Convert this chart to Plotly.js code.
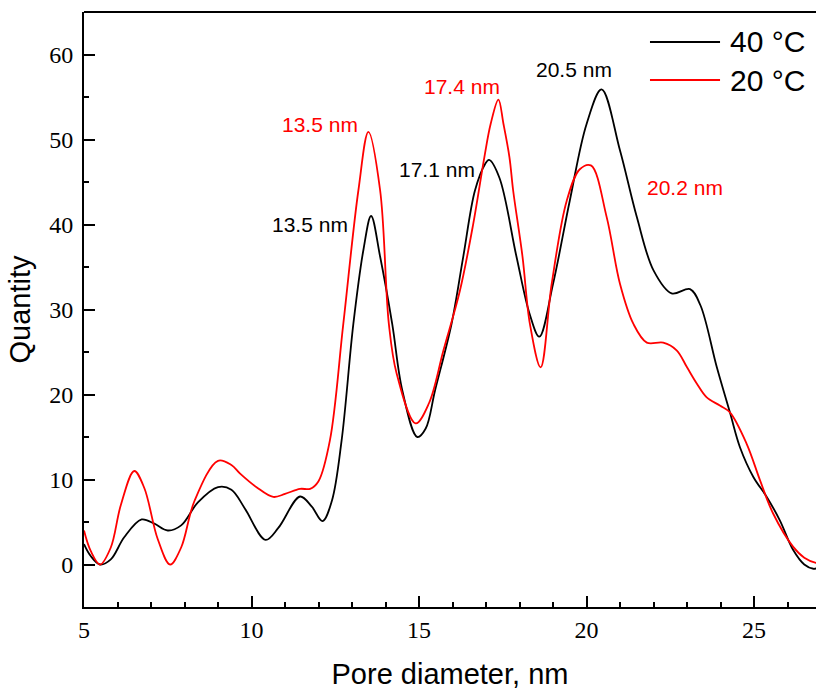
<!DOCTYPE html>
<html>
<head>
<meta charset="utf-8">
<script src="https://cdn.plot.ly/plotly-3.0.1.min.js"></script>
<style>html,body{margin:0;padding:0;background:#fff;}#chart{width:816px;height:690px;}</style>
</head>
<body>
<div id="chart"></div>
<script>
// 40 °C series
const x40 = [5.0,5.2,5.48,5.8,6.2,6.72,7.1,7.5,7.9,8.4,9.0,9.4,9.8,10.42,10.8,11.45,11.8,12.12,12.4,12.69,13.04,13.34,13.57,13.84,14.2,14.5,14.95,15.2,15.48,15.97,16.32,16.67,16.97,17.09,17.4,17.91,18.3,18.59,19.0,19.5,20.0,20.45,21.0,21.5,22.0,22.54,23.09,23.4,23.89,24.28,24.58,24.98,25.38,25.77,26.17,26.5,26.77,26.9];
const y40 = [2.4,1.0,0.0,0.6,3.2,5.3,4.8,4.0,4.6,7.3,9.1,8.8,6.6,2.9,4.3,8.0,6.8,5.1,7.5,14.6,28.3,37.0,41.0,36.2,28.3,20.5,15.0,16.0,20.5,28.3,36.2,44.0,47.1,47.6,45.5,36.2,29.5,26.8,33.0,42.8,51.8,55.9,48.7,40.9,34.6,31.9,32.4,30.5,23.2,17.9,13.8,10.3,7.95,5.2,1.7,0.0,-0.5,-0.4];
// 20 °C series
const x20 = [5.0,5.2,5.48,5.8,6.1,6.5,6.8,7.2,7.57,7.9,8.3,9.0,9.4,9.66,10.15,10.65,11.0,11.45,11.75,12.0,12.34,12.74,13.19,13.49,13.84,14.1,14.33,14.9,15.3,15.73,16.22,16.62,16.95,17.14,17.37,17.52,17.7,17.81,18.09,18.31,18.63,18.96,19.41,19.8,20.13,20.6,21.0,21.4,21.8,22.29,22.69,23.0,23.29,23.58,23.98,24.28,24.78,25.18,25.57,26.17,26.5,26.85,26.9];
const y20 = [4.0,1.6,0.0,2.0,7.0,11.0,9.0,3.0,0.0,2.0,7.5,12.2,11.7,10.7,9.1,7.95,8.3,8.9,8.9,9.8,14.6,28.3,44.0,50.9,44.0,28.3,22.5,16.6,19.0,25.2,32.2,40.1,47.9,51.85,54.7,51.85,47.9,44.0,36.2,28.3,23.2,33.0,42.8,46.5,46.95,40.9,33.0,28.3,26.1,26.1,25.2,23.2,21.3,19.7,18.7,17.9,14.2,9.9,6.0,2.07,0.8,0.2,0.2];

const seriesNames = ['40 °C','20 °C'];
const seriesColors = ['#000000','#ff0000'];

// peak labels
const peakText = ['13.5 nm','13.5 nm','17.1 nm','17.4 nm','20.5 nm','20.2 nm'];
const peakX = [12.04,11.75,15.55,16.27,19.63,22.94];
const peakY = [51.8,40.0,46.5,56.2,58.2,44.3];
const peakColor = ['#ff0000','#000000','#000000','#ff0000','#000000','#ff0000'];

const xTickVals = [5,10,15,20,25];
const yTickVals = [0,10,20,30,40,50,60];

const serif = '"Times New Roman", "Liberation Serif", serif';
const sans = 'Arial, "Liberation Sans", sans-serif';

const traces = [
  {x:x40, y:y40, name:seriesNames[0], type:'scatter', mode:'lines', line:{color:seriesColors[0], width:1.8, shape:'spline', smoothing:1}, showlegend:false},
  {x:x20, y:y20, name:seriesNames[1], type:'scatter', mode:'lines', line:{color:seriesColors[1], width:1.8, shape:'spline', smoothing:1}, showlegend:false}
];

const ann = peakText.map((t,i)=>({x:peakX[i], y:peakY[i], xref:'x', yref:'y', text:t, showarrow:false, xanchor:'center', yanchor:'middle', font:{family:sans, size:21, color:peakColor[i]}}));

// manual legend
const legY = [0.9496, 0.8857];
const shapes = [
  {type:'line', xref:'paper', yref:'paper', x0:0, x1:1, y0:1, y1:1, line:{color:'#000', width:2}}
];
seriesNames.forEach((n,i)=>{
  shapes.push({type:'line', xref:'paper', yref:'paper', x0:0.7732, x1:0.8689, y0:legY[i], y1:legY[i], line:{color:seriesColors[i], width:1.8}});
  ann.push({xref:'paper', yref:'paper', x:0.8798, y:legY[i], text:n, showarrow:false, xanchor:'left', yanchor:'middle', font:{family:sans, size:30, color:'#000'}});
});

const layout = {
  width:816, height:690,
  margin:{l:84, r:0, t:12, b:83, pad:0},
  paper_bgcolor:'#fff', plot_bgcolor:'#fff',
  showlegend:false,
  xaxis:{
    range:[5,26.85], tickvals:xTickVals, ticks:'inside', ticklen:11, tickwidth:2, tickcolor:'#000',
    minor:{dtick:1, ticks:'inside', ticklen:5, tickwidth:2, tickcolor:'#000'},
    showline:true, linecolor:'#000', linewidth:2, showgrid:false, zeroline:false,
    tickfont:{family:serif, size:24, color:'#000'},
    title:{text:'Pore diameter, nm', font:{family:sans, size:29, color:'#000'}, standoff:25}
  },
  yaxis:{
    range:[-5,65], tickvals:yTickVals, ticks:'inside', ticklen:11, tickwidth:2, tickcolor:'#000',
    minor:{dtick:5, tick0:5, ticks:'inside', ticklen:5, tickwidth:2, tickcolor:'#000'},
    showline:true, linecolor:'#000', linewidth:2, showgrid:false, zeroline:false,
    tickfont:{family:serif, size:24, color:'#000'},
    ticklabelstandoff:4,
    title:{text:'Quantity', font:{family:sans, size:29, color:'#000'}, standoff:10}
  },
  annotations:ann,
  shapes:shapes
};

Plotly.newPlot('chart', traces, layout, {staticPlot:true, displayModeBar:false});
</script>
</body>
</html>
